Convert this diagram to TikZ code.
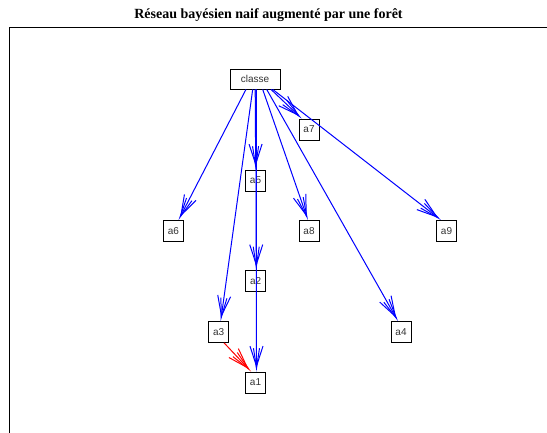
\documentclass[tikz,border=0pt]{standalone}
\usepackage{fontspec}
\setmainfont{Liberation Serif}
\newfontfamily\arialf{Liberation Sans}
\usetikzlibrary{arrows.meta}
\begin{document}
\begin{tikzpicture}[x=1pt,y=-1pt,
  box/.style={draw=black, line width=0.8pt, fill=white,
    font=\arialf\fontsize{10}{12}\selectfont, text=black!80,
    minimum width=20pt, minimum height=21pt, inner sep=0pt},
  tipstyle/.style={-{Straight Barb[length=20pt,width=13pt,sep=-20pt]Straight Barb[length=20pt,width=6pt]}},
  edge/.style={blue, line width=1pt, tipstyle},
  redge/.style={red, line width=1pt, tipstyle}]
\useasboundingbox (0,0) rectangle (547,432);
\node[font=\bfseries\fontsize{14}{16}\selectfont, anchor=base, inner sep=0pt] (title) at (268.5,18.3) {Réseau bayésien naif augmenté par une forêt};
\draw[line width=1.2pt] (9.3,445) -- (9.3,27.5) -- (560,27.5);
\node[box, minimum width=50pt, minimum height=20pt] (classe) at (255,79) {classe};
\node[box] (a7) at (309,129.5) {a7};
\node[box] (a5) at (255.5,180.5) {a5};
\node[box] (a6) at (173.5,231) {a6};
\node[box] (a8) at (309,231) {a8};
\node[box] (a9) at (446.5,231) {a9};
\node[box] (a2) at (255.7,281) {a2};
\node[box] (a3) at (218.7,332) {a3};
\node[box] (a4) at (401,332) {a4};
\node[box] (a1) at (255.5,382.5) {a1};
\draw[edge] ([xshift=-9pt]classe.south) -- ([xshift=5pt]a6.north);
\draw[edge] ([xshift=-2.3pt]classe.south) -- ([xshift=2pt]a3.north);
\draw[edge] ([xshift=0.2pt]classe.south) -- ([xshift=0.2pt]a5.north);
\draw[edge] ([xshift=0.8pt]classe.south) -- ([xshift=0.6pt]a2.north);
\draw[edge] ([xshift=1.3pt]classe.south) -- ([xshift=1pt]a1.north);
\draw[edge] ([xshift=7.7pt]classe.south) -- ([xshift=-1pt]a8.north);
\draw[edge] ([xshift=11.7pt]classe.south) -- ([xshift=-3pt]a4.north);
\draw[edge] ([xshift=16pt]classe.south) -- ([xshift=-7.3pt]a7.north);
\draw[edge] ([xshift=17.7pt]classe.south) -- ([xshift=-5.5pt]a9.north);
\draw[redge] ([xshift=-5pt]a3.south east) -- ([xshift=6pt]a1.north west);
\end{tikzpicture}
\end{document}
